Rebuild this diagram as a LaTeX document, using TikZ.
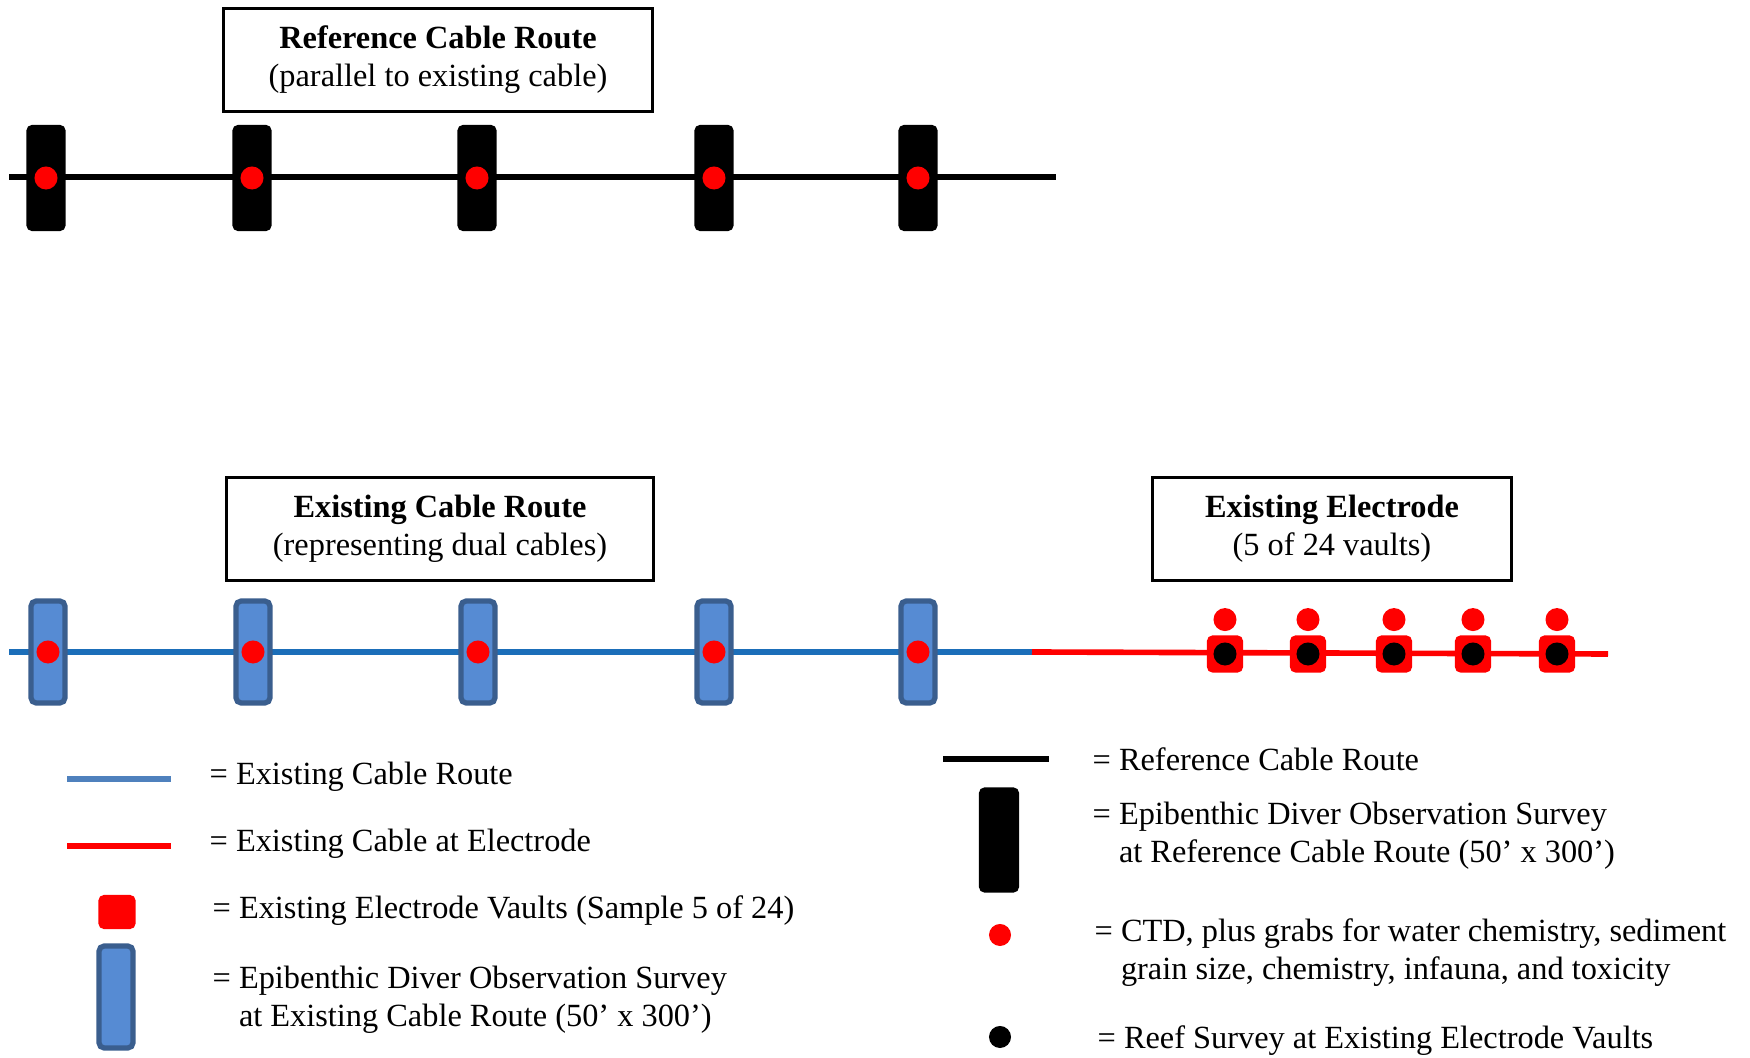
\documentclass[tikz,border=0pt]{standalone}
\usepackage{fontspec}
\setmainfont{Liberation Serif}
\usetikzlibrary{positioning}
\definecolor{cableblue}{HTML}{1B6EB9}
\definecolor{keyblue}{HTML}{4F81BD}
\definecolor{surveyblue}{HTML}{568BD3}
\definecolor{surveyedge}{HTML}{3A5E8E}
\definecolor{elecred}{HTML}{FF0000}
\newcommand{\keyfont}{\fontsize{9.2}{10.8}\selectfont}
\newcommand{\keygap}{\hphantom{=\ }}

\begin{document}
\begin{tikzpicture}[
    x=0.01cm, y=-0.01cm,
    title/.style={rectangle, draw=black, line width=0.8pt, minimum height=1.03cm, align=center, font=\keyfont},
    refsurvey/.style={rectangle, rounded corners=1.5pt, fill=black, minimum width=0.39cm, minimum height=1.06cm, inner sep=0pt},
    cabsurvey/.style={rectangle, rounded corners=1.5pt, fill=surveyblue, draw=surveyedge, line width=1.5pt, minimum width=0.34cm, minimum height=1.02cm, inner sep=0pt},
    vault/.style={rectangle, rounded corners=1.5pt, fill=elecred, minimum width=0.36cm, minimum height=0.37cm, inner sep=0pt},
    ctd/.style={circle, fill=elecred, minimum size=0.23cm, inner sep=0pt},
    reef/.style={circle, fill=black, minimum size=0.23cm, inner sep=0pt},
    refline/.style={line width=1.8pt, black},
    cableline/.style={line width=1.5pt, cableblue},
    elecline/.style={line width=1.6pt, elecred},
    key/.style={anchor=west, inner sep=0pt, align=left, font=\keyfont}
]
\useasboundingbox (0,0) rectangle (1750,1058);

% Reference cable route
\node[title, minimum width=4.29cm] (reftitle) at (438,60) {\textbf{Reference Cable Route}\\(parallel to existing cable)};
\coordinate (ref-w) at (9,177);
\coordinate (ref-e) at (1056,177);
\draw[refline] (ref-w) -- (ref-e);
\node[refsurvey] (ref1) at (46,178) {};
\node[refsurvey] (ref2) at (252,178) {};
\node[refsurvey] (ref3) at (477,178) {};
\node[refsurvey] (ref4) at (714,178) {};
\node[refsurvey] (ref5) at (918,178) {};
\node[ctd] (refctd1) at (ref1) {};
\node[ctd] (refctd2) at (ref2) {};
\node[ctd] (refctd3) at (ref3) {};
\node[ctd] (refctd4) at (ref4) {};
\node[ctd] (refctd5) at (ref5) {};

% Existing cable route
\node[title, minimum width=4.26cm] (cabtitle) at (440,529) {\textbf{Existing Cable Route}\\(representing dual cables)};
\coordinate (cab-w) at (9,652);
\coordinate (cab-e) at (1032,652);
\draw[cableline] (cab-w) -- (cab-e);
\node[cabsurvey] (cab1) at (48,652) {};
\node[cabsurvey] (cab2) at (253,652) {};
\node[cabsurvey] (cab3) at (478,652) {};
\node[cabsurvey] (cab4) at (714,652) {};
\node[cabsurvey] (cab5) at (918,652) {};
\node[ctd] (cabctd1) at (cab1) {};
\node[ctd] (cabctd2) at (cab2) {};
\node[ctd] (cabctd3) at (cab3) {};
\node[ctd] (cabctd4) at (cab4) {};
\node[ctd] (cabctd5) at (cab5) {};

% Existing electrode
\node[title, minimum width=3.59cm] (electitle) at (1332,529) {\textbf{Existing Electrode}\\(5 of 24 vaults)};
\coordinate (elec-e) at (1608,654);
\draw[elecline] (cab-e) -- (elec-e);
\node[vault] (vault1) at (1225,654) {};
\node[vault] (vault2) at (1308,654) {};
\node[vault] (vault3) at (1394,654) {};
\node[vault] (vault4) at (1473,654) {};
\node[vault] (vault5) at (1557,654) {};
\node[reef] (reef1) at (vault1) {};
\node[reef] (reef2) at (vault2) {};
\node[reef] (reef3) at (vault3) {};
\node[reef] (reef4) at (vault4) {};
\node[reef] (reef5) at (vault5) {};
\node[ctd, above=0.03cm of vault1] (vctd1) {};
\node[ctd, above=0.03cm of vault2] (vctd2) {};
\node[ctd, above=0.03cm of vault3] (vctd3) {};
\node[ctd, above=0.03cm of vault4] (vctd4) {};
\node[ctd, above=0.03cm of vault5] (vctd5) {};

% Key, left
\coordinate (keyblue-w) at (67,779);
\coordinate (keyblue-e) at (171,779);
\draw[line width=1.6pt, keyblue] (keyblue-w) -- (keyblue-e);
\node[key] (keycab) at (209,777) {= Existing Cable Route};
\coordinate (keyred-w) at (67,846);
\coordinate (keyred-e) at (171,846);
\draw[elecline] (keyred-w) -- (keyred-e);
\node[key] (keyelec) at (209,844) {= Existing Cable at Electrode};
\node[vault, minimum height=0.34cm, minimum width=0.37cm] (keyvault) at (117,912) {};
\node[key] (keyvaulttxt) at (212,911) {= Existing Electrode Vaults (Sample 5 of 24)};
\node[cabsurvey] (keycabsurvey) at (116,997) {};
\node[key] (keycabsurveytxt) at (212,1000) {= Epibenthic Diver Observation Survey\\\keygap at Existing Cable Route (50’ x 300’)};

% Key, right
\coordinate (keyblack-w) at (943,759);
\coordinate (keyblack-e) at (1049,759);
\draw[refline] (keyblack-w) -- (keyblack-e);
\node[key] (keyref) at (1092,759) {= Reference Cable Route};
\node[refsurvey, minimum width=0.40cm, minimum height=1.05cm] (keyrefsurvey) at (999,840) {};
\node[key] (keyrefsurveytxt) at (1092,836) {= Epibenthic Diver Observation Survey\\\keygap at Reference Cable Route (50’ x 300’)};
\node[ctd, minimum size=0.22cm] (keyctd) at (1000,935) {};
\node[key] (keyctdtxt) at (1094,953) {= CTD, plus grabs for water chemistry, sediment\\\keygap grain size, chemistry, infauna, and toxicity};
\node[reef, minimum size=0.22cm] (keyreef) at (1000,1037) {};
\node[key] (keyreeftxt) at (1097,1041) {= Reef Survey at Existing Electrode Vaults};

\end{tikzpicture}
\end{document}
